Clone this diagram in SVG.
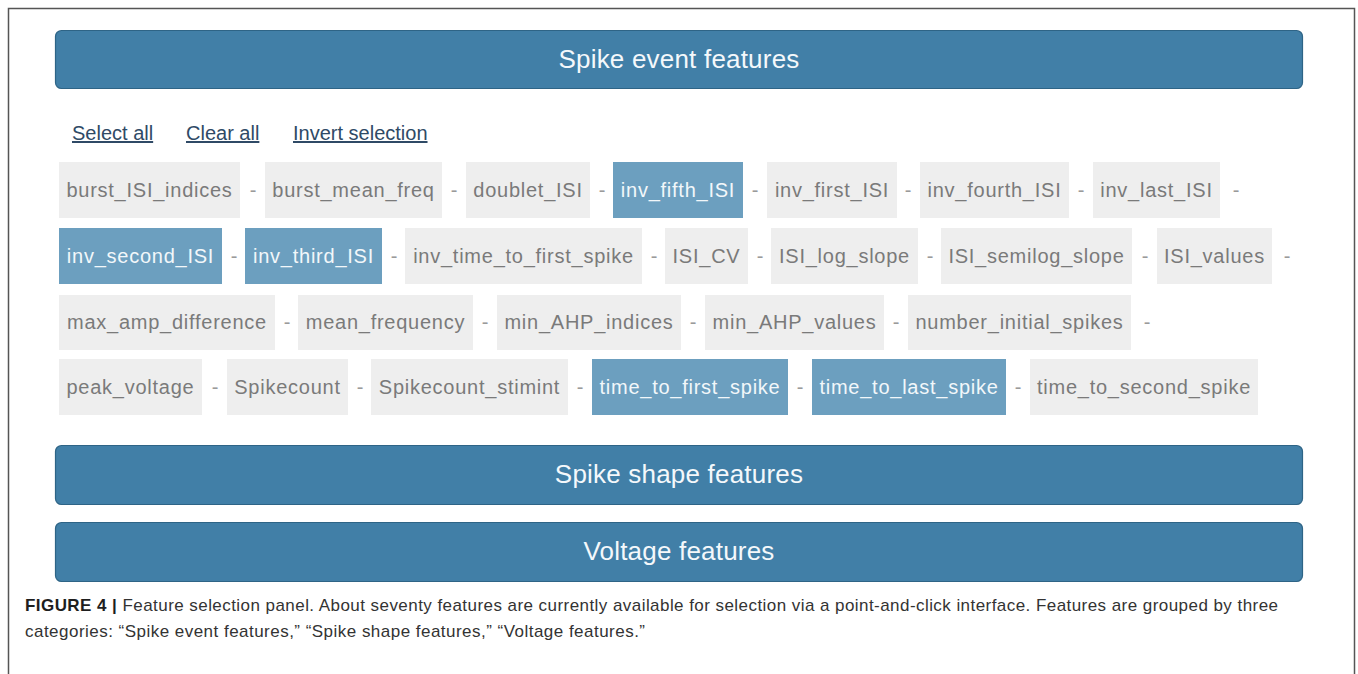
<svg xmlns="http://www.w3.org/2000/svg" width="1358" height="674" viewBox="0 0 1358 674">
  <style>
    .frame { fill: #ffffff; stroke: #555555; stroke-width: 1.5; }
    .banner rect { fill: #417fa7; stroke: #2e6486; stroke-width: 1.2; }
    .banner text { font-family: "Liberation Sans", Arial, sans-serif; font-size: 26px; fill: #f4f8fb; text-anchor: middle; letter-spacing: 0.2px; }
    .link { font-family: "Liberation Sans", Arial, sans-serif; font-size: 20px; fill: #2f4a66; text-decoration: underline; }
    .chip rect { fill: #eeeeee; }
    .chip text { font-family: "Liberation Sans", Arial, sans-serif; font-size: 20px; fill: #7a7a7a; text-anchor: middle; letter-spacing: 0.75px; }
    .chip.sel rect { fill: #6c9fbf; }
    .chip.sel text { fill: #f2f7fa; }
    .dash { font-family: "Liberation Sans", Arial, sans-serif; font-size: 20px; fill: #9a9a9a; text-anchor: middle; }
    .caption { font-family: "Liberation Sans", Arial, sans-serif; font-size: 17px; fill: #333333; }
    .caption .b { font-weight: bold; fill: #1e1e1e; }
  </style>

  <!-- outer panel frame -->
  <rect class="frame" x="8.5" y="8.5" width="1346" height="700"/>

  <!-- category banners -->
  <g id="banner-spike-event" class="banner">
    <rect x="55.5" y="30.5" width="1247" height="58" rx="6"/>
    <text x="679" y="68">Spike event features</text>
  </g>
  <g id="banner-spike-shape" class="banner">
    <rect x="55.5" y="445.5" width="1247" height="59" rx="6"/>
    <text x="679" y="483">Spike shape features</text>
  </g>
  <g id="banner-voltage" class="banner">
    <rect x="55.5" y="522.5" width="1247" height="59" rx="6"/>
    <text x="679" y="560">Voltage features</text>
  </g>

  <!-- selection links -->
  <g id="links">
    <text class="link" x="72" y="140">Select all</text>
    <text class="link" x="186" y="140">Clear all</text>
    <text class="link" x="293" y="140">Invert selection</text>
  </g>

  <!-- row 1 -->
  <g id="chip-burst_ISI_indices" class="chip"><rect x="59" y="162" width="181" height="56"/><text x="149.5" y="197">burst_ISI_indices</text></g>
  <g id="chip-burst_mean_freq" class="chip"><rect x="265" y="162" width="177" height="56"/><text x="353.5" y="197">burst_mean_freq</text></g>
  <g id="chip-doublet_ISI" class="chip"><rect x="466" y="162" width="124" height="56"/><text x="528" y="197">doublet_ISI</text></g>
  <g id="chip-inv_fifth_ISI" class="chip sel"><rect x="613" y="162" width="130" height="56"/><text x="678" y="197">inv_fifth_ISI</text></g>
  <g id="chip-inv_first_ISI" class="chip"><rect x="767" y="162" width="130" height="56"/><text x="832" y="197">inv_first_ISI</text></g>
  <g id="chip-inv_fourth_ISI" class="chip"><rect x="920" y="162" width="149" height="56"/><text x="994.5" y="197">inv_fourth_ISI</text></g>
  <g id="chip-inv_last_ISI" class="chip"><rect x="1093" y="162" width="127" height="56"/><text x="1156.5" y="197">inv_last_ISI</text></g>

  <!-- row 2 -->
  <g id="chip-inv_second_ISI" class="chip sel"><rect x="59" y="228" width="163" height="56"/><text x="140.5" y="263">inv_second_ISI</text></g>
  <g id="chip-inv_third_ISI" class="chip sel"><rect x="245" y="228" width="137" height="56"/><text x="313.5" y="263">inv_third_ISI</text></g>
  <g id="chip-inv_time_to_first_spike" class="chip"><rect x="405" y="228" width="237" height="56"/><text x="523.5" y="263">inv_time_to_first_spike</text></g>
  <g id="chip-ISI_CV" class="chip"><rect x="665" y="228" width="83" height="56"/><text x="706.5" y="263">ISI_CV</text></g>
  <g id="chip-ISI_log_slope" class="chip"><rect x="771" y="228" width="147" height="56"/><text x="844.5" y="263">ISI_log_slope</text></g>
  <g id="chip-ISI_semilog_slope" class="chip"><rect x="941" y="228" width="191" height="56"/><text x="1036.5" y="263">ISI_semilog_slope</text></g>
  <g id="chip-ISI_values" class="chip"><rect x="1157" y="228" width="115" height="56"/><text x="1214.5" y="263">ISI_values</text></g>

  <!-- row 3 -->
  <g id="chip-max_amp_difference" class="chip"><rect x="59" y="295" width="216" height="55"/><text x="167" y="329">max_amp_difference</text></g>
  <g id="chip-mean_frequency" class="chip"><rect x="298" y="295" width="175" height="55"/><text x="385.5" y="329">mean_frequency</text></g>
  <g id="chip-min_AHP_indices" class="chip"><rect x="497" y="295" width="184" height="55"/><text x="589" y="329">min_AHP_indices</text></g>
  <g id="chip-min_AHP_values" class="chip"><rect x="705" y="295" width="179" height="55"/><text x="794.5" y="329">min_AHP_values</text></g>
  <g id="chip-number_initial_spikes" class="chip"><rect x="908" y="295" width="223" height="55"/><text x="1019.5" y="329">number_initial_spikes</text></g>

  <!-- row 4 -->
  <g id="chip-peak_voltage" class="chip"><rect x="59" y="359" width="143" height="56"/><text x="130.5" y="394">peak_voltage</text></g>
  <g id="chip-Spikecount" class="chip"><rect x="227" y="359" width="121" height="56"/><text x="287.5" y="394">Spikecount</text></g>
  <g id="chip-Spikecount_stimint" class="chip"><rect x="371" y="359" width="197" height="56"/><text x="469.5" y="394">Spikecount_stimint</text></g>
  <g id="chip-time_to_first_spike" class="chip sel"><rect x="592" y="359" width="196" height="56"/><text x="690" y="394">time_to_first_spike</text></g>
  <g id="chip-time_to_last_spike" class="chip sel"><rect x="812" y="359" width="194" height="56"/><text x="909" y="394">time_to_last_spike</text></g>
  <g id="chip-time_to_second_spike" class="chip"><rect x="1030" y="359" width="228" height="56"/><text x="1144" y="394">time_to_second_spike</text></g>

  <!-- separators between chips -->
  <g id="separators">
    <text class="dash" x="253" y="197">-</text>
    <text class="dash" x="454" y="197">-</text>
    <text class="dash" x="602" y="197">-</text>
    <text class="dash" x="755" y="197">-</text>
    <text class="dash" x="908" y="197">-</text>
    <text class="dash" x="1081" y="197">-</text>
    <text class="dash" x="1236" y="197">-</text>

    <text class="dash" x="234" y="263">-</text>
    <text class="dash" x="394" y="263">-</text>
    <text class="dash" x="654" y="263">-</text>
    <text class="dash" x="760" y="263">-</text>
    <text class="dash" x="930" y="263">-</text>
    <text class="dash" x="1145" y="263">-</text>
    <text class="dash" x="1287" y="263">-</text>

    <text class="dash" x="287" y="329">-</text>
    <text class="dash" x="485" y="329">-</text>
    <text class="dash" x="693" y="329">-</text>
    <text class="dash" x="896" y="329">-</text>
    <text class="dash" x="1147" y="329">-</text>

    <text class="dash" x="215" y="394">-</text>
    <text class="dash" x="360" y="394">-</text>
    <text class="dash" x="580" y="394">-</text>
    <text class="dash" x="800" y="394">-</text>
    <text class="dash" x="1018" y="394">-</text>
  </g>

  <!-- figure caption -->
  <g id="caption">
    <text class="caption" x="25" y="611" textLength="1253" lengthAdjust="spacing"><tspan class="b">FIGURE 4 |</tspan> Feature selection panel. About seventy features are currently available for selection via a point-and-click interface. Features are grouped by three</text>
    <text class="caption" x="25" y="637" textLength="620" lengthAdjust="spacing">categories: “Spike event features,” “Spike shape features,” “Voltage features.”</text>
  </g>
</svg>
